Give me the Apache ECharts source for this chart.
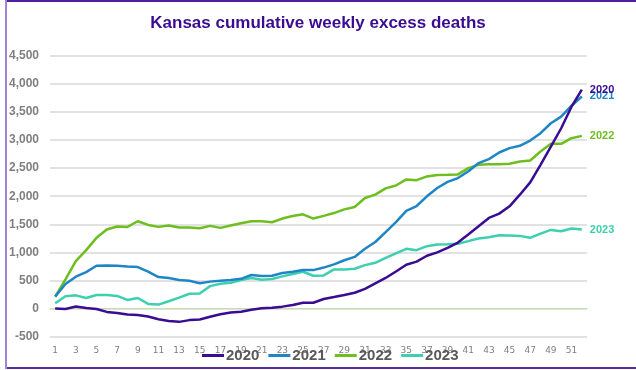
<!DOCTYPE html>
<html><head><meta charset="utf-8">
<script src="https://cdn.jsdelivr.net/npm/echarts@6/dist/echarts.min.js"></script>
<style>html,body{margin:0;padding:0;background:#fff}#c{width:636px;height:370px}</style>
</head><body><div id="c"></div>
<script>
const weeks = Array.from({length: 52}, (_, i) => String(i + 1));
const yTicks = [-500, 0, 500, 1000, 1500, 2000, 2500, 3000, 3500, 4000, 4500];
const seriesNames = ['2020', '2021', '2022', '2023'];
const y2020 = [0, -6, 38, 12, -6, -59, -77, -106, -112, -142, -189, -219, -236, -205, -195, -145, -100, -70, -55, -20, 5, 15, 35, 65, 105, 105, 170, 205, 242, 282, 350, 450, 545, 660, 780, 835, 940, 1000, 1082, 1175, 1318, 1466, 1613, 1690, 1820, 2027, 2246, 2559, 2884, 3209, 3593, 3895];
const y2021 = [213, 437, 567, 650, 762, 768, 762, 750, 739, 656, 561, 544, 508, 495, 450, 480, 497, 510, 530, 597, 580, 585, 632, 656, 685, 685, 730, 786, 860, 920, 1065, 1185, 1360, 1540, 1740, 1825, 1998, 2145, 2255, 2323, 2441, 2589, 2660, 2778, 2855, 2896, 2990, 3121, 3298, 3416, 3610, 3775];
const y2022 = [213, 520, 845, 1040, 1259, 1407, 1460, 1454, 1554, 1489, 1454, 1478, 1442, 1442, 1430, 1472, 1436, 1478, 1519, 1554, 1554, 1537, 1602, 1649, 1678, 1602, 1650, 1700, 1765, 1808, 1968, 2027, 2140, 2190, 2299, 2285, 2352, 2378, 2382, 2388, 2500, 2559, 2570, 2570, 2577, 2618, 2636, 2796, 2932, 2932, 3032, 3073];
const y2023 = [95, 219, 236, 189, 242, 242, 225, 154, 189, 83, 71, 130, 195, 265, 270, 400, 443, 460, 508, 544, 515, 526, 573, 615, 656, 585, 590, 697, 697, 709, 774, 815, 904, 981, 1064, 1040, 1111, 1140, 1146, 1155, 1200, 1247, 1270, 1306, 1300, 1294, 1259, 1335, 1400, 1377, 1424, 1406];
const allData = [y2020, y2021, y2022, y2023];
const colors = ['#3a0c91', '#1f86c5', '#6ebe1f', '#3ecfaf'];

const chart = echarts.init(document.getElementById('c'), null, {renderer: 'canvas'});
chart.setOption({
  animation: false,
  title: {
    text: 'Kansas cumulative weekly excess deaths',
    left: 'center', top: 10,
    textStyle: {fontFamily: 'Liberation Sans, Arial, sans-serif', fontSize: 17, fontWeight: 'bold', color: '#3a0c91'}
  },
  graphic: [
    {type: 'line', shape: {x1: 6, y1: 1, x2: 636, y2: 1}, style: {stroke: '#4b1f9e', lineWidth: 2}, z: 100},
    {type: 'line', shape: {x1: 6, y1: 368, x2: 636, y2: 368}, style: {stroke: '#5a2ca0', lineWidth: 2}, z: 100},
    {type: 'line', shape: {x1: 6, y1: 0, x2: 6, y2: 369}, style: {stroke: '#9f86d3', lineWidth: 2}, z: 100}
  ],
  legend: {
    data: seriesNames,
    left: 197, top: 343,
    itemWidth: 22, itemHeight: 12, itemGap: 9,
    icon: 'path://M0,4 L22,4 L22,7 L0,7 Z',
    textStyle: {fontFamily: 'Liberation Sans, Arial, sans-serif', fontSize: 15, fontWeight: 'bold', color: '#595959', padding: [0, 0, 0, -3]}
  },
  grid: {left: 50, right: 49, top: 55.7, bottom: 33.3, containLabel: false},
  xAxis: {
    type: 'category', data: weeks, boundaryGap: true,
    axisLine: {onZero: true, lineStyle: {color: '#c3dfae', width: 1}},
    axisTick: {show: false},
    axisLabel: {interval: 1, color: '#7f7f7f', fontSize: 9, margin: 9, fontFamily: 'DejaVu Sans, sans-serif'},
    splitLine: {show: false}
  },
  yAxis: {
    type: 'value', min: yTicks[0], max: yTicks[yTicks.length - 1], interval: 500,
    axisLine: {show: false}, axisTick: {show: false},
    axisLabel: {
      color: '#7f7f7f', fontSize: 12, fontWeight: 'bold', margin: 11,
      fontFamily: 'Liberation Sans, Arial, sans-serif',
      formatter: v => v.toLocaleString('en-US')
    },
    splitLine: {lineStyle: {color: '#d9d9d9', width: 1.5}}
  },
  series: seriesNames.map((n, i) => ({
    name: n, type: 'line', data: allData[i], symbol: 'none', smooth: false,
    color: colors[i],
    lineStyle: {width: 2.5, color: colors[i]},
    z: 10 - i,
    endLabel: {
      show: true, formatter: '{a}', color: colors[i], fontWeight: 'bold', fontSize: 11,
      distance: 8, fontFamily: 'Liberation Sans, Arial, sans-serif'
    }
  }))
});
</script></body></html>
